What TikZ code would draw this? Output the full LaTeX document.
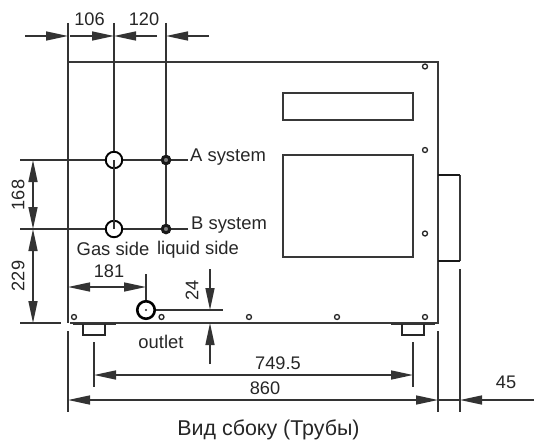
\documentclass[tikz,border=0pt]{standalone}
\usepackage{fontspec}
\setmainfont{Liberation Sans}
\usetikzlibrary{arrows.meta}
\tikzset{
  x=1pt,y=-1pt,
  line/.style={draw=black!80,line width=1.5pt},
  body/.style={draw=black!78,line width=1.5pt},
  dim/.style={line,{Triangle[length=22pt,width=9pt]}-{Triangle[length=22pt,width=9pt]}},
  tipend/.style={line,-{Triangle[length=22pt,width=9pt]}},
  label/.style={inner sep=0pt,font=\fontsize{18.2pt}{19pt}\selectfont,text=black!85},
  wordlabel/.style={label,font=\fontsize{18.4pt}{19pt}\selectfont},
  titlelabel/.style={label,font=\fontsize{21.4pt}{23pt}\selectfont},
  bolt/.style={circle,draw=black!85,line width=1.3pt,fill=white,minimum size=5pt,inner sep=0pt},
  pipe/.style={circle,draw=black,line width=1.9pt,fill=white,minimum size=16.5pt,inner sep=0pt},
  liq/.style={circle,draw=black!90,line width=3pt,fill=black!50,minimum size=7.5pt,inner sep=0pt},
}
\begin{document}
\begin{tikzpicture}
\useasboundingbox (0,0) rectangle (534,441);
% body
\coordinate (TL) at (68,62); \coordinate (TR) at (438,62);
\coordinate (BR) at (438,323); \coordinate (BL) at (70,323);
\draw[body] (BL) -- (BR) -- (TR) -- (TL);
\coordinate (pa1) at (283,93); \coordinate (pa2) at (413,120);
\coordinate (pb1) at (283,155); \coordinate (pb2) at (413,257);
\draw[body] (pa1) rectangle (pa2);
\draw[body] (pb1) rectangle (pb2);
% side box
\coordinate (sa) at (438,175); \coordinate (sb) at (460,175); \coordinate (sc) at (460,261); \coordinate (sd) at (438,261);
\draw[body] (sb) -- (sc);
\draw[draw=black!90,line width=2.4pt] (sa) -- (sb) (sc) -- (sd);
% feet
\coordinate (f1) at (73,324); \coordinate (f2) at (116,324);
\coordinate (f3) at (83,324); \coordinate (f4) at (83,335); \coordinate (f5) at (105,335); \coordinate (f6) at (105,324);
\draw[line] (f1) -- (f2);
\draw[draw=black!85,line width=1.9pt] (f3) -- (f4) -- (f5) -- (f6);
\coordinate (g1) at (391,324); \coordinate (g2) at (435,324);
\coordinate (g3) at (402,324); \coordinate (g4) at (402,335); \coordinate (g5) at (424,335); \coordinate (g6) at (424,324);
\draw[line] (g1) -- (g2);
\draw[draw=black!85,line width=1.9pt] (g3) -- (g4) -- (g5) -- (g6);
% bolts
\node[bolt] (b1) at (425,66.5) {};
\node[bolt] (b2) at (425,150) {};
\node[bolt] (b3) at (425,233.5) {};
\node[bolt] (b4) at (425,317) {};
\node[bolt] (b5) at (337,317) {};
\node[bolt] (b6) at (249,317) {};
\node[bolt] (b7) at (161.5,317) {};
\node[bolt] (b8) at (74,317) {};
% reference lines
\coordinate (ha) at (20,160); \coordinate (hae) at (188,160);
\coordinate (hb) at (20,229); \coordinate (hbe) at (188,229);
\coordinate (hc) at (20,323); \coordinate (hce) at (61,323);
\draw[line] (ha) -- (hae);
\draw[line] (hb) -- (hbe);
\draw[line] (hc) -- (hce);
\coordinate (v1) at (68,23); \coordinate (v1e) at (68,323);
\coordinate (v2) at (114,23); \coordinate (v3) at (166,23);
\draw[line] (v1) -- (v1e);
\node[pipe] (gasA) at (114,160) {};
\node[pipe] (gasB) at (114,229) {};
\node[liq] (liqA) at (166,160) {};
\node[liq] (liqB) at (166,229) {};
\draw[line] (v2) -- (gasA.north);
\draw[line] (gasA.center) -- (gasB.center);
\draw[line] (v3) -- (liqA.north);
\draw[line] (liqA.south) -- (liqB.north);
% top dimensions
\coordinate (a0) at (25,36); \coordinate (a1) at (68,36); \coordinate (a2) at (70,36); \coordinate (a3) at (114,36);
\coordinate (a4) at (157,36); \coordinate (a5) at (166,36); \coordinate (a6) at (209,36);
\draw[tipend] (a0) -- (a1);
\draw[tipend] (a2) -- (a3);
\draw[tipend] (a4) -- (a3);
\draw[tipend] (a6) -- (a5);
\node[label] (t106) at (89.5,19) {106};
\node[label] (t120) at (144,19) {120};
% left dimensions
\coordinate (l1) at (33,160); \coordinate (l2) at (33,229); \coordinate (l3) at (33,323);
\draw[dim] (l1) -- (l2);
\draw[dim] (l2) -- (l3);
\node[label,rotate=90] (t168) at (18,195) {168};
\node[label,rotate=90] (t229) at (18,276) {229};
% pipe labels
\node[wordlabel,anchor=west] (tA) at (190,157.5) {A system};
\node[wordlabel,anchor=west] (tB) at (191,225) {B system};
\node[wordlabel] (tgas) at (113,248.5) {Gas side};
\node[wordlabel] (tliq) at (198,249.5) {liquid side};
% outlet
\node[pipe,minimum size=17.5pt,line width=2.6pt] (out) at (146,310) {};
\fill[black!85] (out.center) circle (1.2pt);
\coordinate (oe) at (223,310);
\draw[line] (out.east) -- (oe);
\coordinate (x1) at (146,274); \draw[line] (x1) -- (out.north);
\coordinate (d0) at (68,287); \coordinate (d1) at (146,287);
\draw[dim] (d0) -- (d1);
\node[label] (t181) at (109,271) {181};
\node[wordlabel] (toutlet) at (161,342) {outlet};
\coordinate (e1) at (210,269); \coordinate (e2) at (210,310); \coordinate (e3) at (210,323); \coordinate (e4) at (210,364);
\draw[tipend] (e1) -- (e2);
\draw[tipend] (e4) -- (e3);
\node[label,rotate=90] (t24) at (192,290) {24};
% bottom dimensions
\coordinate (m1) at (94,342); \coordinate (m2) at (94,387); \coordinate (m3) at (413,342); \coordinate (m4) at (413,387);
\draw[line] (m1) -- (m2);
\draw[line] (m3) -- (m4);
\coordinate (n1) at (94,375); \coordinate (n2) at (413,375);
\draw[dim] (n1) -- (n2);
\node[label] (t749) at (278,363) {749.5};
\coordinate (o1) at (68,331); \coordinate (o2) at (68,412);
\coordinate (o3) at (438,331); \coordinate (o4) at (438,412);
\coordinate (o5) at (460,269); \coordinate (o6) at (460,412);
\draw[line] (o1) -- (o2);
\draw[line] (o3) -- (o4);
\draw[line] (o5) -- (o6);
\coordinate (p1) at (68,400); \coordinate (p2) at (438,400); \coordinate (p3) at (460,400); \coordinate (p4) at (534,400);
\draw[dim] (p1) -- (p2);
\draw[line] (p2) -- (p3);
\draw[tipend] (p4) -- (p3);
\node[label] (t860) at (265,388) {860};
\node[label] (t45) at (506,382) {45};
\node[titlelabel] (title) at (268.5,430) {Вид сбоку (Трубы)};
\end{tikzpicture}
\end{document}
